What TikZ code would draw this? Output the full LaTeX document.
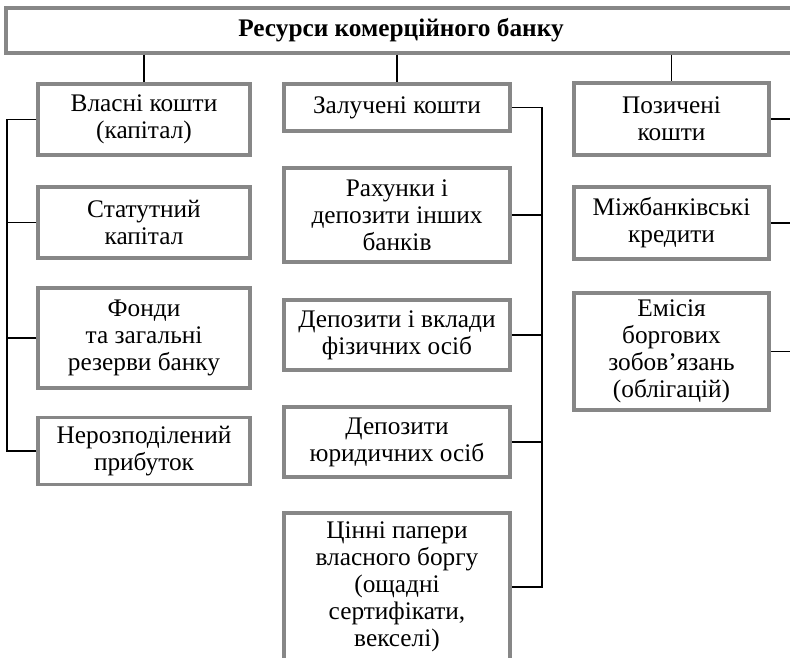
\documentclass[tikz,border=0pt]{standalone}
\usepackage{fontspec}
\setmainfont{Liberation Serif}
\begin{document}
\begin{tikzpicture}[x=1pt,y=-1pt,
  box/.style={draw=black!47,line width=3.5pt,fill=white,inner sep=0pt,align=center,
    font=\fontsize{25.3}{27}\selectfont},
  conn/.style={draw=black,line width=1.5pt}]
\useasboundingbox (0,0) rectangle (790,658);
\clip (0,0) rectangle (790,658);
% top
\node[box,minimum width=790pt,minimum height=45pt,font=\fontsize{25.3}{27}\selectfont\bfseries] (top) at (401,30.5) {Ресурси комерційного банку};
% column 1
\node[box,minimum width=212pt,minimum height=71pt] (v1) at (144,119.5) {Власні кошти\\(капітал)};
\node[box,minimum width=212pt,minimum height=71pt] (v2) at (144,222.5) {Статутний\\капітал};
\node[box,minimum width=212pt,minimum height=100pt] (v3) at (144,338) {Фонди\\та загальні\\резерви банку};
\node[box,minimum width=212pt,minimum height=67pt] (v4) at (144,451) {Нерозподілений\\прибуток};
% column 2
\node[box,minimum width=226pt,minimum height=47pt] (z1) at (397,107.5) {Залучені кошти};
\node[box,minimum width=226pt,minimum height=94pt] (z2) at (397,215) {Рахунки і\\депозити інших\\банків};
\node[box,minimum width=226pt,minimum height=70pt] (z3) at (397,335) {Депозити і вклади\\фізичних осіб};
\node[box,minimum width=226pt,minimum height=70pt] (z4) at (397,442) {Депозити\\юридичних осіб};
\node[box,minimum width=226pt,minimum height=148pt] (z5) at (397,587) {Цінні папери\\власного боргу\\(ощадні\\сертифікати,\\векселі)};
% column 3
\node[box,minimum width=195pt,minimum height=72pt] (p1) at (671.5,119) {Позичені\\кошти};
\node[box,minimum width=195pt,minimum height=72pt] (p2) at (671.5,223) {Міжбанківські\\кредити};
\node[box,minimum width=195pt,minimum height=117pt] (p3) at (671.5,351.5) {Емісія\\боргових\\зобов’язань\\(облігацій)};
% bus coordinates
\coordinate (lx) at (7,0);
\coordinate (mx) at (542,0);
\coordinate (rx) at (800,0);
% connectors from top
\draw[conn] (top.south -| v1.north) -- (v1.north);
\draw[conn] (top.south -| z1.north) -- (z1.north);
\draw[conn] (top.south -| p1.north) -- (p1.north);
% left bus
\draw[conn] (v1.west) -- (v1.west -| lx) -- (v4.west -| lx) -- (v4.west);
\draw[conn] (v2.west) -- (v2.west -| lx);
\draw[conn] (v3.west) -- (v3.west -| lx);
% middle bus
\draw[conn] (z1.east) -- (z1.east -| mx) -- (z5.east -| mx) -- (z5.east);
\draw[conn] (z2.east) -- (z2.east -| mx);
\draw[conn] (z3.east) -- (z3.east -| mx);
\draw[conn] (z4.east) -- (z4.east -| mx);
% right stubs
\draw[conn] (p1.east) -- (p1.east -| rx);
\draw[conn] (p2.east) -- (p2.east -| rx);
\draw[conn] (p3.east) -- (p3.east -| rx);
\end{tikzpicture}
\end{document}
